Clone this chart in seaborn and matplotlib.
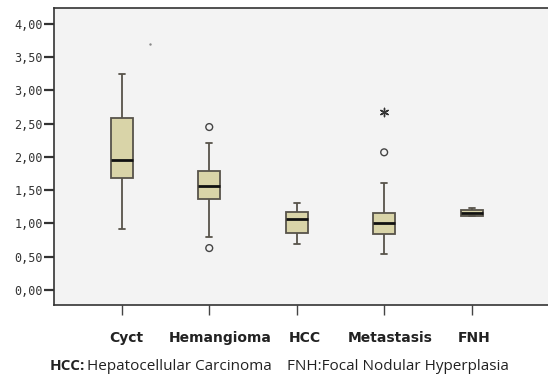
import matplotlib
matplotlib.use("Agg")
import matplotlib.pyplot as plt
import seaborn as sns
import pandas as pd
from matplotlib.transforms import ScaledTranslation

# ---- data ----
categories = ["Cyct", "Hemangioma", "HCC", "Metastasis", "FNH"]
whisker_low = [0.92, 0.80, 0.69, 0.54, 1.11]
q1 = [1.68, 1.37, 0.86, 0.84, 1.11]
median = [1.95, 1.56, 1.07, 1.01, 1.16]
q3 = [2.59, 1.79, 1.17, 1.16, 1.21]
whisker_high = [3.25, 2.21, 1.31, 1.61, 1.24]

outlier_cat = ["Hemangioma", "Hemangioma", "Metastasis"]
outlier_val = [2.45, 0.63, 2.07]
extreme_cat = ["Metastasis"]
extreme_val = [2.68]
stray_x = [0.32]
stray_y = [3.70]

ytick_vals = [0.0, 0.5, 1.0, 1.5, 2.0, 2.5, 3.0, 3.5, 4.0]
ytick_labels = ["0,00", "0,50", "1,00", "1,50", "2,00", "2,50", "3,00", "3,50", "4,00"]
label_shift_px = [5, 11, 8, 6, 3]

rows = []
for i, c in enumerate(categories):
    for v in (whisker_low[i], q1[i], median[i], q3[i], whisker_high[i]):
        rows.append({"group": c, "value": v})
df = pd.DataFrame(rows)

sns.set_style("white")
plt.rcParams["font.family"] = ["DejaVu Sans"]

fig = plt.figure(figsize=(5.48, 3.80), dpi=100)
fig.patch.set_facecolor("white")
ax = fig.add_axes([54 / 548, 1 - 305 / 380, 1.0 - 54 / 548 + 0.01, (305 - 8) / 380])
ax.set_facecolor("#F3F3F3")

edge = "#57534A"
sns.boxplot(data=df, x="group", y="value", order=categories, whis=(0, 100),
            width=0.25, color="#D9D4A8", saturation=1, linecolor=edge,
            linewidth=1.3, fliersize=0,
            medianprops={"color": "#111111", "linewidth": 2.0},
            ax=ax)

# shorten whisker caps to SPSS-like small caps
for ln in ax.lines:
    xd = list(ln.get_xdata())
    yd = list(ln.get_ydata())
    if len(xd) == 2 and yd[0] == yd[1] and 0 < abs(xd[1] - xd[0]) < 0.2:
        cx = (xd[0] + xd[1]) / 2
        ln.set_xdata([cx - 0.035, cx + 0.035])

out_x = [categories.index(c) for c in outlier_cat]
sns.scatterplot(x=out_x, y=outlier_val, marker="o", s=24, facecolor="none",
                edgecolor="#444444", linewidth=1.0, ax=ax)
ext_x = [categories.index(c) for c in extreme_cat]
sns.scatterplot(x=ext_x, y=extreme_val, marker=(6, 2, 0), s=36,
                color="#333333", linewidth=1.0, ax=ax)
sns.scatterplot(x=stray_x, y=stray_y, marker="o", s=3, color="#888888",
                linewidth=0, ax=ax)

ax.set_xlim(-0.775, 4.936)
ax.set_ylim(-0.226, 4.24)
ax.set_xlabel("")
ax.set_ylabel("")

ax.set_yticks(ytick_vals)
ax.set_yticklabels(ytick_labels, family="DejaVu Sans Mono", fontsize=8.5, color="#333333")
ax.set_xticks(range(len(categories)))
ax.set_xticklabels(categories, fontsize=10, fontweight="bold", color="#222222")
ax.tick_params(axis="y", direction="out", length=7, width=1.6, color="#333333", pad=1, left=True)
ax.tick_params(axis="x", direction="out", length=7, width=1.0, color="#444444", pad=12, bottom=True)
for lab, dx in zip(ax.get_xticklabels(), label_shift_px):
    lab.set_transform(lab.get_transform() + ScaledTranslation(dx / 100, 0, fig.dpi_scale_trans))

for s in ["left", "bottom", "top"]:
    ax.spines[s].set_color("#333333")
    ax.spines[s].set_linewidth(1.2)
ax.spines["right"].set_visible(False)

fs = 11
fig.text(50 / 548, 1 - 366 / 380, "HCC:", fontsize=fs, fontweight="bold", family="Open Sans",
         color="#222222", va="center", ha="left")
fig.text(87 / 548, 1 - 366 / 380, "Hepatocellular Carcinoma", fontsize=fs, family="Open Sans",
         color="#222222", va="center", ha="left")
fig.text(287 / 548, 1 - 366 / 380, "FNH:Focal Nodular Hyperplasia", fontsize=fs, family="Open Sans",
         color="#222222", va="center", ha="left")

fig.savefig("out.png", dpi=100)
